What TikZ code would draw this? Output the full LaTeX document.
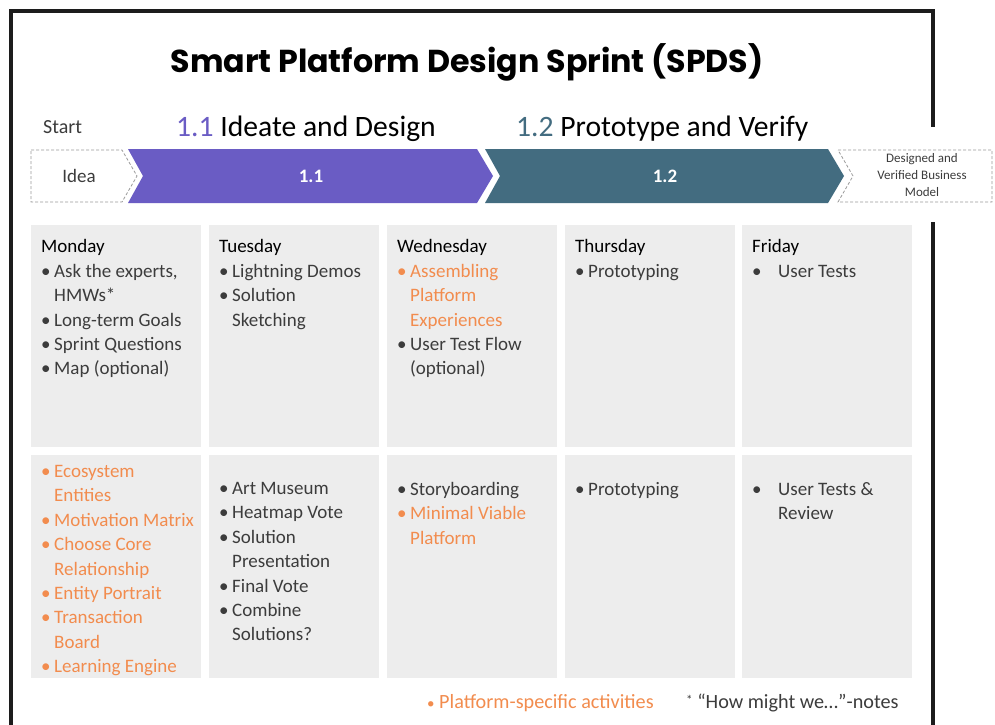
\documentclass[tikz,border=0pt]{standalone}
\usepackage{fontspec}
\setmainfont{Carlito}
\newfontfamily\titlefont{Poppins}
\definecolor{frame}{HTML}{1C1C1C}
\definecolor{phaseA}{HTML}{6A5CC4}
\definecolor{phaseB}{HTML}{436C80}
\definecolor{boxfill}{HTML}{EDEDED}
\definecolor{accent}{HTML}{F28C4E}
\definecolor{itemtext}{HTML}{3C3C3C}
\definecolor{dashgray}{HTML}{9A9A9A}
% bullet helpers
\newcommand\bi[1]{\makebox[13pt][l]{\textbullet}#1}
\newcommand\bo[1]{\makebox[13pt][l]{\textcolor{accent}{\textbullet}}\textcolor{accent}{#1}}
\newcommand\ci[1]{\hspace*{13pt}#1}
\newcommand\co[1]{\hspace*{13pt}\textcolor{accent}{#1}}
\newcommand\bw[1]{\makebox[26pt][l]{\textbullet}#1}
\newcommand\cw[1]{\hspace*{26pt}#1}
\begin{document}
\begin{tikzpicture}[x=1pt,y=-1pt,
  daybox/.style={fill=boxfill,draw=none},
  daytext/.style={anchor=north west,inner sep=0pt,align=left,text=itemtext,
    font=\fontsize{19}{24.4}\selectfont},
  dashbox/.style={draw=dashgray,dash pattern=on 3pt off 2pt,line width=0.8pt},
  phasetitle/.style={anchor=base west,inner sep=0pt,font=\fontsize{29.6}{32}\selectfont},
  bartext/.style={text=white,font=\bfseries\fontsize{19}{22}\selectfont,inner sep=0pt}]
\useasboundingbox (0,0) rectangle (995,724);
\fill[white] (0,0) rectangle (995,724);

% outer frame, open on the right where the process bar passes
\draw[frame,line width=4pt] (10.5,730) -- (10.5,10.5) -- (933,10.5) -- (933,127);
\draw[frame,line width=4pt] (933,222) -- (933,730);

% title
\node[anchor=base,inner sep=0pt,font=\titlefont\bfseries\fontsize{31.7}{34}\selectfont]
  (title) at (467,72) {Smart Platform Design Sprint (SPDS)};

% phase headings
\node[anchor=base west,inner sep=0pt,font=\fontsize{20}{22}\selectfont,text=itemtext]
  (start) at (43,133) {Start};
\node[phasetitle] (ph1) at (176,136) {\textcolor{phaseA}{1.1} Ideate and Design};
\node[phasetitle] (ph2) at (516,136) {\textcolor{phaseB}{1.2} Prototype and Verify};

% process bar
\draw[dashbox] (31,150) -- (122,150) -- (137,176) -- (122,202) -- (31,202) -- cycle;
\node[inner sep=0pt,font=\fontsize{19}{22}\selectfont,text=itemtext] (idea) at (79,176) {Idea};
\fill[phaseA] (128,149) -- (477,149) -- (493,176) -- (477,203) -- (128,203) -- (143,176) -- cycle;
\node[bartext] (bar1) at (311,176) {1.1};
\fill[phaseB] (485,149) -- (828,149) -- (844,176) -- (828,203) -- (485,203) -- (500,176) -- cycle;
\node[bartext] (bar2) at (665,176) {1.2};
\draw[dashbox] (838,150) -- (992,150) -- (992,202) -- (838,202) -- (853,176) -- cycle;
\node[inner sep=0pt,align=center,text=itemtext,font=\fontsize{13}{17}\selectfont]
  (result) at (922,175.5) {Designed and\\Verified Business\\Model};

% day boxes, two rows
\foreach \i/\x in {mon/31,tue/209,wed/387,thu/565,fri/742}{
  \path[daybox] (\x,225) rectangle ++(170,222);
  \path[daybox] (\x,455) rectangle ++(170,223);
}

% first row
\node[daytext] (monA) at (41,239.5) {\textcolor{black}{Monday}\\
  \bi{Ask the experts,}\\ \ci{HMWs*}\\ \bi{Long-term Goals}\\ \bi{Sprint Questions}\\ \bi{Map (optional)}};
\node[daytext] (tueA) at (219,239.5) {\textcolor{black}{Tuesday}\\
  \bi{Lightning Demos}\\ \bi{Solution}\\ \ci{Sketching}};
\node[daytext] (wedA) at (397,239.5) {\textcolor{black}{Wednesday}\\
  \bo{Assembling}\\ \co{Platform}\\ \co{Experiences}\\ \bi{User Test Flow}\\ \ci{(optional)}};
\node[daytext] (thuA) at (575,239.5) {\textcolor{black}{Thursday}\\ \bi{Prototyping}};
\node[daytext] (friA) at (752,239.5) {\textcolor{black}{Friday}\\ \bw{User Tests}};

% second row
\node[daytext] (monB) at (41,465) {\bo{Ecosystem}\\ \co{Entities}\\ \bo{Motivation Matrix}\\
  \bo{Choose Core}\\ \co{Relationship}\\ \bo{Entity Portrait}\\ \bo{Transaction}\\ \co{Board}\\ \bo{Learning Engine}};
\node[daytext] (tueB) at (219,482) {\bi{Art Museum}\\ \bi{Heatmap Vote}\\ \bi{Solution}\\ \ci{Presentation}\\
  \bi{Final Vote}\\ \bi{Combine}\\ \ci{Solutions?}};
\node[daytext] (wedB) at (397,482) {\bi{Storyboarding}\\ \bo{Minimal Viable}\\ \co{Platform}};
\node[daytext] (thuB) at (575,482) {\bi{Prototyping}};
\node[daytext] (friB) at (752,482) {\bw{User Tests \&}\\ \cw{Review}};

% legend
\node[anchor=base west,inner sep=0pt,font=\fontsize{20.2}{24}\selectfont,text=accent]
  (legA) at (427,708) {{\fontsize{15}{16}\selectfont\textbullet}\ Platform-specific activities};
\node[anchor=base west,inner sep=0pt,font=\fontsize{20.2}{24}\selectfont,text=itemtext]
  (legB) at (686,708) {\raisebox{4pt}{\fontsize{13}{16}\selectfont*}\ “How might we…”-notes};
\end{tikzpicture}
\end{document}
